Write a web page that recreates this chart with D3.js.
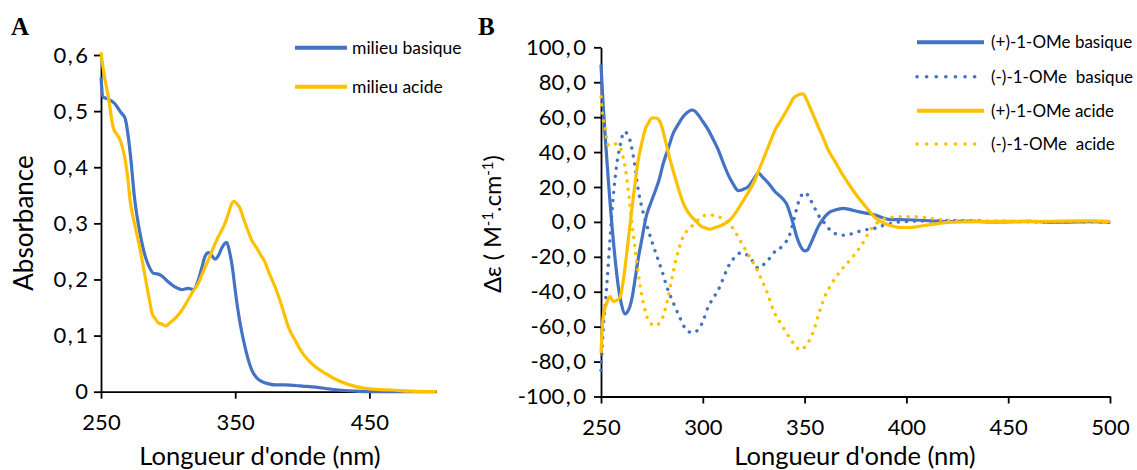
<!DOCTYPE html>
<html><head><meta charset="utf-8">
<script src="https://cdn.jsdelivr.net/npm/d3@7"></script>
<style>
body{margin:0;background:#fff;}
text{font-family:Lato,"Open Sans",sans-serif;fill:#000;}
</style>
</head><body><svg id="c" width="1137" height="470"></svg>
<script>
// ---------- Panel A : absorbance ----------
const absXTicks = [250, 350, 450];
const absYTicks = [0, 0.1, 0.2, 0.3, 0.4, 0.5, 0.6];
const absSeriesNames = ["milieu basique", "milieu acide"];

const absBasiqueWl = [250,251.5,255,260,265,268,270,272,275,279,283,286,289,292,295,300,305,310,315,319,322.5,325,327.5,330,332.5,335,338,340,343.7,346,348,350,352.8,355,357.3,360,362.3,366,370,375,380,387,395,400,410,420,427,440,450,500];
const absBasique   = [0.56,0.525,0.522,0.514,0.497,0.487,0.46,0.42,0.345,0.283,0.241,0.222,0.211,0.21,0.207,0.196,0.187,0.182,0.184,0.182,0.199,0.22,0.241,0.248,0.243,0.236,0.245,0.256,0.266,0.247,0.22,0.181,0.134,0.105,0.08,0.055,0.039,0.025,0.018,0.014,0.012,0.012,0.011,0.01,0.008,0.005,0.003,0.001,0,0];

const absAcideWl = [250,252,255.4,259.2,262,264.2,266,268,270,271.6,274,276.6,279,281.5,284,286.5,288,290.2,293,296,298,301,304,308,311.3,314,317.6,322.5,326,330,334,337.4,340,342.4,345,347,349.3,351.5,353.6,356,359,362.3,366,369.7,372,375,379.7,383,387.1,390,394.6,399,404.5,410,416.9,424,431.8,440,446.7,455,466.6,480,500];
const absAcide   = [0.605,0.57,0.526,0.47,0.458,0.449,0.435,0.413,0.38,0.342,0.31,0.282,0.255,0.223,0.19,0.158,0.14,0.131,0.122,0.12,0.117,0.122,0.128,0.138,0.149,0.16,0.175,0.193,0.213,0.235,0.258,0.276,0.288,0.3,0.318,0.333,0.339,0.334,0.327,0.31,0.29,0.27,0.256,0.241,0.232,0.213,0.187,0.165,0.134,0.113,0.092,0.073,0.056,0.044,0.033,0.023,0.015,0.009,0.006,0.004,0.003,0.001,0];

// ---------- Panel B : circular dichroism ----------
const cdXTicks = [250, 300, 350, 400, 450, 500];
const cdYTicks = [-100, -80, -60, -40, -20, 0, 20, 40, 60, 80, 100];
const cdSeriesNames = ["(+)-1-OMe basique", "(-)-1-OMe  basique", "(+)-1-OMe acide", "(-)-1-OMe  acide"];

const plusBasiqueWl = [250,251.1,252.3,253.6,256,258.5,260,261.8,263,264.2,265.5,266.7,268.3,270,272.4,274.5,276.5,278.5,280.6,283,285.5,288,290.4,292.5,294.5,296,297.8,300,302.7,305,307.6,310,312.5,315,317.4,319.5,322.3,325,327.3,329.5,332.2,335.5,339.5,341.5,342.8,344.5,346.1,348,349.9,351.5,352.7,354.5,356.7,359,361.6,365,369,372.5,376.4,380,384.6,388,391.1,396,404.2,412,419,430,445,460,475,490,500];
const plusBasique   = [90,66,45,24,-10,-37,-47,-52.7,-51.5,-48.5,-42,-33,-21,-10.3,4,11,17.3,24,33.6,42,50.8,56,60.3,62.8,64.1,63.5,61.2,57.5,52.7,47.5,41.2,34,26.9,21.5,17.9,18.5,20.2,24.5,27.9,25.5,22.2,17.3,13,9.5,5,-1.5,-8.4,-14,-16.6,-16,-13.2,-8.5,-2.7,1.5,5,6.8,7.8,7,5.9,5,4,2.5,1.5,1.3,1.1,0.6,0.2,0.4,0,0.3,-0.2,0.2,0];

const minusBasiqueWl = [250,251.1,252.8,254.4,256,257.7,259.3,261.4,262.8,264.2,265.5,266.7,268.3,270.8,273.2,275.5,278.1,280.2,282.3,284.3,286.3,289,291.3,294.5,297.8,300,302.7,305.5,308.4,310.5,312.5,315.5,318.3,321,324,327.3,330.6,332.2,334.6,337.1,340,342,343.8,345.3,347.7,350.2,352.7,354.5,356.7,360,363.3,366.5,369.8,374,378,384.6,389.5,394,399.3,410,420,435,450,465,480,500];
const minusBasique   = [-85,-61.8,-37,-10.3,14.5,32.6,43.1,51.7,50.5,46.9,40,31.7,18.3,5,-4.6,-13,-21.8,-29,-37,-43,-48.5,-55.5,-60.9,-63.4,-61.8,-57,-48.5,-43,-37,-31,-25.6,-20.5,-17.9,-18.5,-21.8,-26.5,-23.6,-21.8,-17.9,-16,-12.5,-9.3,-3,4,13.6,16.8,13,9,4,-1,-5.6,-7.2,-7.6,-6.5,-5,-3.6,-1.7,-0.5,0.2,0.6,0.8,0.5,0.3,0,0.2,-0.2];

const plusAcideWl = [250,251.1,252.8,254.4,256,257.5,259.3,261,263.4,265.9,268.3,270,271.6,273.2,274.9,277,279,280.5,282.3,284.3,286.3,288.3,290.4,292.5,294.5,297,299.5,301.5,303.5,306,308.4,310.5,312.5,316,319.1,322.4,325.6,328,330.6,333,335.5,338,340.4,342.5,344.5,347,349.4,350.6,351.8,354.3,356.7,359.2,361.6,365,368.2,371.5,374.8,378,381.3,383.8,386.2,388.7,391.1,393.5,396,399,402.6,406.5,410.8,415,419,430,445,460,475,490,500];
const plusAcide   = [-75,-54,-46.5,-42.8,-45.6,-45,-43.3,-33.2,-10.3,14.5,35.5,45,52.7,56.5,59.4,59.5,57.4,52,43.1,34,25.9,18,10.7,6,3,0,-2.7,-3.5,-4.2,-3.2,-2.3,-1.2,0.2,5,10.7,17,24,31,38.5,45.5,52.7,57.5,62.2,66.5,70.8,72.8,73.3,71,67.9,61,54.5,48,41.2,34.5,27.9,22,16.4,11.5,6.9,3.5,1.1,-0.5,-1.7,-2.5,-3.1,-3.2,-3.1,-2.5,-1.7,-1,-0.4,0,0.3,0.2,0.5,0.6,0.3];

const minusAcideWl = [250,250.6,252,253.6,256,257.5,259.3,260.5,261.8,263.4,265,266.7,268.3,270.8,273.2,276.5,279.8,282.3,284.7,287.2,290.4,294.5,297,299.5,302.7,306,309.3,311.8,314.2,316.6,319.1,321.5,324,326.5,328.9,331.8,334.6,338.7,342.8,345.2,347.7,351,354.3,357.6,360,362.5,367.4,373.1,378,383,387.9,392,396,402,407.5,413,419,430,445,460,475,490,500];
const minusAcide   = [71.7,63,53.6,44,45,44.5,43.1,38.5,31.7,18.3,1,-15,-29.4,-46.5,-56.1,-59.5,-56.1,-46.5,-33.2,-19.9,-8.4,-2.7,0.5,3,4,3.6,2.1,0,-2.7,-7,-12.2,-17,-21.8,-27,-33.2,-41,-50.4,-59,-66.6,-70.5,-73.3,-70.4,-62.8,-50.4,-42.5,-37,-28.4,-20.8,-13.2,-3.6,1.1,2.5,3,3,2.7,1.8,1.1,0.6,0.2,0.5,0.1,0.4,0];

// ---------- drawing ----------
const BLUE = "#4472C4", GOLD = "#FFC000";
const svg = d3.select("#c");
const fmt1 = d => d === 0 ? "0" : d3.format(".1f")(d).replace(".", ",");
const fmtB = d => d3.format(".1f")(d).replace(".", ",").replace("−", "-");

function styleAxis(g) {
  g.select(".domain").attr("stroke", "#000").attr("stroke-width", 1.8);
  g.selectAll(".tick line").attr("stroke", "#000").attr("stroke-width", 1.8);
  g.selectAll(".tick text").attr("font-size", 22).attr("font-family", "Lato");
}
// slightly wider decimal comma, as in the original labels
function spaceComma(g) {
  g.selectAll(".tick text").each(function () {
    const t = d3.select(this), s = t.text(), k = s.indexOf(",");
    if (k < 0) return;
    t.text(null);
    t.append("tspan").text(s.slice(0, k));
    t.append("tspan").attr("dx", 1.5).text(",");
    t.append("tspan").attr("dx", 2.5).text(s.slice(k + 1));
  });
}

// Panel A
const xA = d3.scaleLinear().domain([250, 500]).range([101, 436.5]);
const yA = d3.scaleLinear().domain([0, 0.6]).range([391.7, 55]);

svg.append("g").attr("transform", "translate(0,391.7)")
  .call(d3.axisBottom(xA).tickValues(absXTicks).tickFormat(d3.format("d")).tickSize(7).tickSizeOuter(0).tickPadding(16))
  .call(styleAxis);
svg.append("g").attr("transform", "translate(101,0)")
  .call(d3.axisLeft(yA).tickValues(absYTicks).tickFormat(fmt1).tickSize(7).tickSizeOuter(0).tickPadding(6))
  .call(styleAxis).call(spaceComma);

const lineA = d3.line().x(d => xA(d[0])).y(d => yA(d[1])).curve(d3.curveMonotoneX);
const absSets = [[absBasiqueWl, absBasique, BLUE], [absAcideWl, absAcide, GOLD]];
absSets.forEach(([wl, v, c]) => {
  svg.append("path").datum(wl.map((w, i) => [w, v[i]]))
    .attr("d", lineA).attr("fill", "none").attr("stroke", c).attr("stroke-width", 3.2)
    .attr("stroke-linejoin", "round");
});

svg.append("text").attr("x", 260).attr("y", 465).attr("text-anchor", "middle").attr("font-size", 25.5).text("Longueur d'onde (nm)");
svg.append("text").attr("transform", "translate(33,223) rotate(-90)").attr("text-anchor", "middle").attr("font-size", 26).text("Absorbance");
svg.append("text").attr("x", 11).attr("y", 35).attr("font-size", 25).attr("font-weight", "bold")
  .style("font-family", "'Liberation Serif',serif").text("A");

// legend A
absSeriesNames.forEach((n, i) => {
  const y = 47.7 + i * 39;
  svg.append("line").attr("x1", 295).attr("x2", 347).attr("y1", y).attr("y2", y)
    .attr("stroke", absSets[i][2]).attr("stroke-width", 4);
  svg.append("text").attr("x", 352).attr("y", y + 6).attr("font-size", 17.5).text(n);
});

// Panel B
const xB = d3.scaleLinear().domain([250, 500]).range([601, 1110]);
const yB = d3.scaleLinear().domain([-100, 100]).range([396.5, 47.3]);

svg.append("g").attr("transform", "translate(0,396.5)")
  .call(d3.axisBottom(xB).tickValues(cdXTicks).tickFormat(d3.format("d")).tickSize(7).tickSizeOuter(0).tickPadding(16))
  .call(styleAxis);
svg.append("g").attr("transform", "translate(601,0)")
  .call(d3.axisLeft(yB).tickValues(cdYTicks).tickFormat(fmtB).tickSize(7).tickSizeOuter(0).tickPadding(8))
  .call(styleAxis).call(spaceComma);

const lineB = d3.line().x(d => xB(d[0])).y(d => yB(d[1])).curve(d3.curveMonotoneX);
const cdSets = [
  [plusBasiqueWl, plusBasique, BLUE, false],
  [minusBasiqueWl, minusBasique, BLUE, true],
  [plusAcideWl, plusAcide, GOLD, false],
  [minusAcideWl, minusAcide, GOLD, true]
];
cdSets.forEach(([wl, v, c, dotted]) => {
  const p = svg.append("path").datum(wl.map((w, i) => [w, v[i]]))
    .attr("d", lineB).attr("fill", "none").attr("stroke", c)
    .attr("stroke-linejoin", "round");
  if (dotted) p.attr("stroke-width", 3.4).attr("stroke-linecap", "round").attr("stroke-dasharray", "0.1,8");
  else p.attr("stroke-width", 3.2);
});

svg.append("text").attr("x", 855).attr("y", 465).attr("text-anchor", "middle").attr("font-size", 25.5).text("Longueur d'onde (nm)");
const yt = svg.append("text").attr("transform", "translate(501,224) rotate(-90)").attr("text-anchor", "middle").attr("font-size", 23.5);
yt.append("tspan").text("Δε ( M");
yt.append("tspan").attr("font-size", 15).attr("dy", -8).text("-1");
yt.append("tspan").attr("dy", 8).text(".cm");
yt.append("tspan").attr("font-size", 15).attr("dy", -8).text("-1");
yt.append("tspan").attr("dy", 8).text(")");
svg.append("text").attr("x", 478).attr("y", 35).attr("font-size", 25).attr("font-weight", "bold")
  .style("font-family", "'Liberation Serif',serif").text("B");

// legend B
const legY = [42.3, 76.7, 110.7, 144];
cdSeriesNames.forEach((n, i) => {
  const [, , c, dotted] = cdSets[i];
  const l = svg.append("line").attr("x1", 917).attr("x2", 984).attr("y1", legY[i]).attr("y2", legY[i]).attr("stroke", c);
  if (dotted) l.attr("stroke-width", 3.6).attr("stroke-linecap", "round").attr("stroke-dasharray", "0.1,9.5");
  else l.attr("stroke-width", 4);
  svg.append("text").attr("x", 991).attr("y", legY[i] + 6).attr("font-size", 17)
    .attr("xml:space", "preserve").style("white-space", "pre").text(n);
});
</script></body></html>
